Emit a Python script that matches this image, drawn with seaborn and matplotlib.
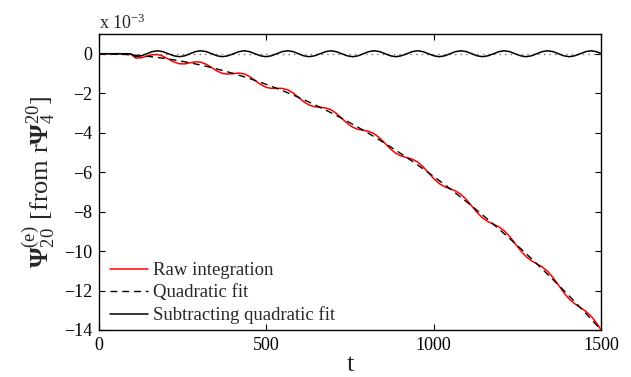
import matplotlib
matplotlib.use("Agg")
import matplotlib.pyplot as plt
import seaborn as sns
import pandas as pd

# time samples
t = [0, 78, 94, 110, 126, 143, 159, 175, 191, 207, 224, 240, 256, 272, 288, 304,
     321, 337, 353, 369, 385, 402, 418, 434, 450, 466, 483, 499, 515, 531, 547,
     564, 580, 596, 612, 628, 644, 661, 677, 693, 709, 725, 742, 758, 774, 790,
     806, 822, 839, 855, 871, 887, 903, 920, 936, 952, 968, 984, 1001, 1017,
     1033, 1049, 1065, 1082, 1098, 1114, 1130, 1146, 1162, 1179, 1195, 1211,
     1227, 1243, 1260, 1276, 1292, 1308, 1324, 1340, 1357, 1373, 1389, 1405,
     1421, 1438, 1454, 1470, 1486, 1500]

# values in units of 1e-3
raw_integration = [0, 0, 0, -0.225, -0.205, -0.127, -0.051, -0.040, -0.121, -0.267,
    -0.418, -0.508, -0.514, -0.460, -0.410, -0.425, -0.535, -0.706, -0.881, -0.997,
    -1.028, -1.005, -0.981, -1.022, -1.154, -1.351, -1.557, -1.699, -1.756, -1.754,
    -1.755, -1.829, -1.986, -2.209, -2.436, -2.603, -2.686, -2.718, -2.745, -2.837,
    -3.021, -3.269, -3.531, -3.724, -3.832, -3.882, -3.935, -4.053, -4.272, -4.547,
    -4.825, -5.044, -5.178, -5.265, -5.343, -5.487, -5.722, -6.023, -6.338, -6.583,
    -6.743, -6.844, -6.949, -7.132, -7.393, -7.719, -8.048, -8.319, -8.505, -8.646,
    -8.776, -8.972, -9.258, -9.610, -9.981, -10.277, -10.489, -10.642, -10.798,
    -11.019, -11.348, -11.726, -12.106, -12.428, -12.666, -12.862, -13.044, -13.291,
    -13.629, -13.985]

quadratic_fit = [0, -0.038, -0.055, -0.075, -0.099, -0.127, -0.157, -0.190, -0.227,
    -0.267, -0.312, -0.358, -0.408, -0.460, -0.516, -0.575, -0.641, -0.706, -0.775,
    -0.847, -0.922, -1.005, -1.087, -1.172, -1.260, -1.351, -1.451, -1.549, -1.650,
    -1.754, -1.861, -1.979, -2.092, -2.209, -2.330, -2.453, -2.580, -2.718, -2.851,
    -2.987, -3.127, -3.269, -3.425, -3.574, -3.726, -3.882, -4.041, -4.203, -4.378,
    -4.547, -4.719, -4.894, -5.072, -5.265, -5.449, -5.637, -5.828, -6.023, -6.232,
    -6.433, -6.637, -6.844, -7.055, -7.282, -7.499, -7.719, -7.942, -8.169, -8.399,
    -8.646, -8.882, -9.122, -9.364, -9.610, -9.875, -10.127, -10.383, -10.642,
    -10.904, -11.169, -11.454, -11.726, -12.000, -12.278, -12.560, -12.862, -13.150,
    -13.441, -13.735, -13.995]

subtracted = [0, 0, 0, -0.150, -0.106, 0, 0.106, 0.150, 0.106, 0, -0.106, -0.150,
    -0.106, 0, 0.106, 0.150, 0.106, 0, -0.106, -0.150, -0.106, 0, 0.106, 0.150,
    0.106, 0, -0.106, -0.150, -0.106, 0, 0.106, 0.150, 0.106, 0, -0.106, -0.150,
    -0.106, 0, 0.106, 0.150, 0.106, 0, -0.106, -0.150, -0.106, 0, 0.106, 0.150,
    0.106, 0, -0.106, -0.150, -0.106, 0, 0.106, 0.150, 0.106, 0, -0.106, -0.150,
    -0.106, 0, 0.106, 0.150, 0.106, 0, -0.106, -0.150, -0.106, 0, 0.106, 0.150,
    0.106, 0, -0.106, -0.150, -0.106, 0, 0.106, 0.150, 0.106, 0, -0.106, -0.150,
    -0.106, 0, 0.106, 0.150, 0.106, 0.010]

labels = ["Raw integration", "Quadratic fit", "Subtracting quadratic fit"]
x_ticks = [0, 500, 1000, 1500]
y_ticks = [0, -2, -4, -6, -8, -10, -12, -14]

sns.set_style("ticks", {"xtick.direction": "in", "ytick.direction": "in"})
plt.rcParams["font.family"] = ["Liberation Serif", "DejaVu Serif"]
plt.rcParams["mathtext.fontset"] = "custom"
plt.rcParams["mathtext.rm"] = "Liberation Serif"
plt.rcParams["mathtext.it"] = "Liberation Serif:italic"
plt.rcParams["mathtext.bf"] = "Liberation Serif:bold"

fig = plt.figure(figsize=(6.31, 3.77), dpi=100)
ax = fig.add_axes([99 / 631, 1 - 330 / 377, 502 / 631, 296 / 377])

df = pd.DataFrame({"t": t, "raw": raw_integration, "fit": quadratic_fit, "sub": subtracted})

ax.axhline(0, color="#777777", lw=1.0, ls=(0, (1, 3)), zorder=1)
sns.lineplot(data=df, x="t", y="raw", color="red", lw=1.1, label=labels[0], ax=ax, zorder=3)
sns.lineplot(data=df, x="t", y="fit", color="black", lw=1.0, linestyle=(0, (5, 3.5)),
             label=labels[1], ax=ax, zorder=4)
sns.lineplot(data=df, x="t", y="sub", color="black", lw=1.1, label=labels[2], ax=ax, zorder=3)

ax.set_xlim(0, 1500)
ax.set_ylim(-14, 1)
ax.set_xticks(x_ticks)
ax.set_yticks(y_ticks)
ax.tick_params(axis="both", which="both", direction="in", length=4, width=0.8,
               top=True, right=True, labelsize=13, colors="black", pad=5)
for s in ax.spines.values():
    s.set_visible(True)
    s.set_color("black")
    s.set_linewidth(1.0)

ax.set_xlabel("t", fontsize=19, labelpad=0)
ax.set_ylabel(r"$\mathbf{\Psi}^{(\mathrm{e})}_{20}$ [from r$\mathbf{\Psi}^{20}_{4}$]",
              fontsize=19, labelpad=4)
ax.text(0, 1.016, r"x 10$^{-3}$", transform=ax.transAxes, ha="left", va="baseline",
        fontsize=13)

leg = ax.legend(loc="lower left", bbox_to_anchor=(0.022, 0.02), frameon=False,
                fontsize=13.5, handlelength=2.0, handletextpad=0.3, labelspacing=0.26,
                borderpad=0, borderaxespad=0)

fig.savefig("out.png", dpi=100)
